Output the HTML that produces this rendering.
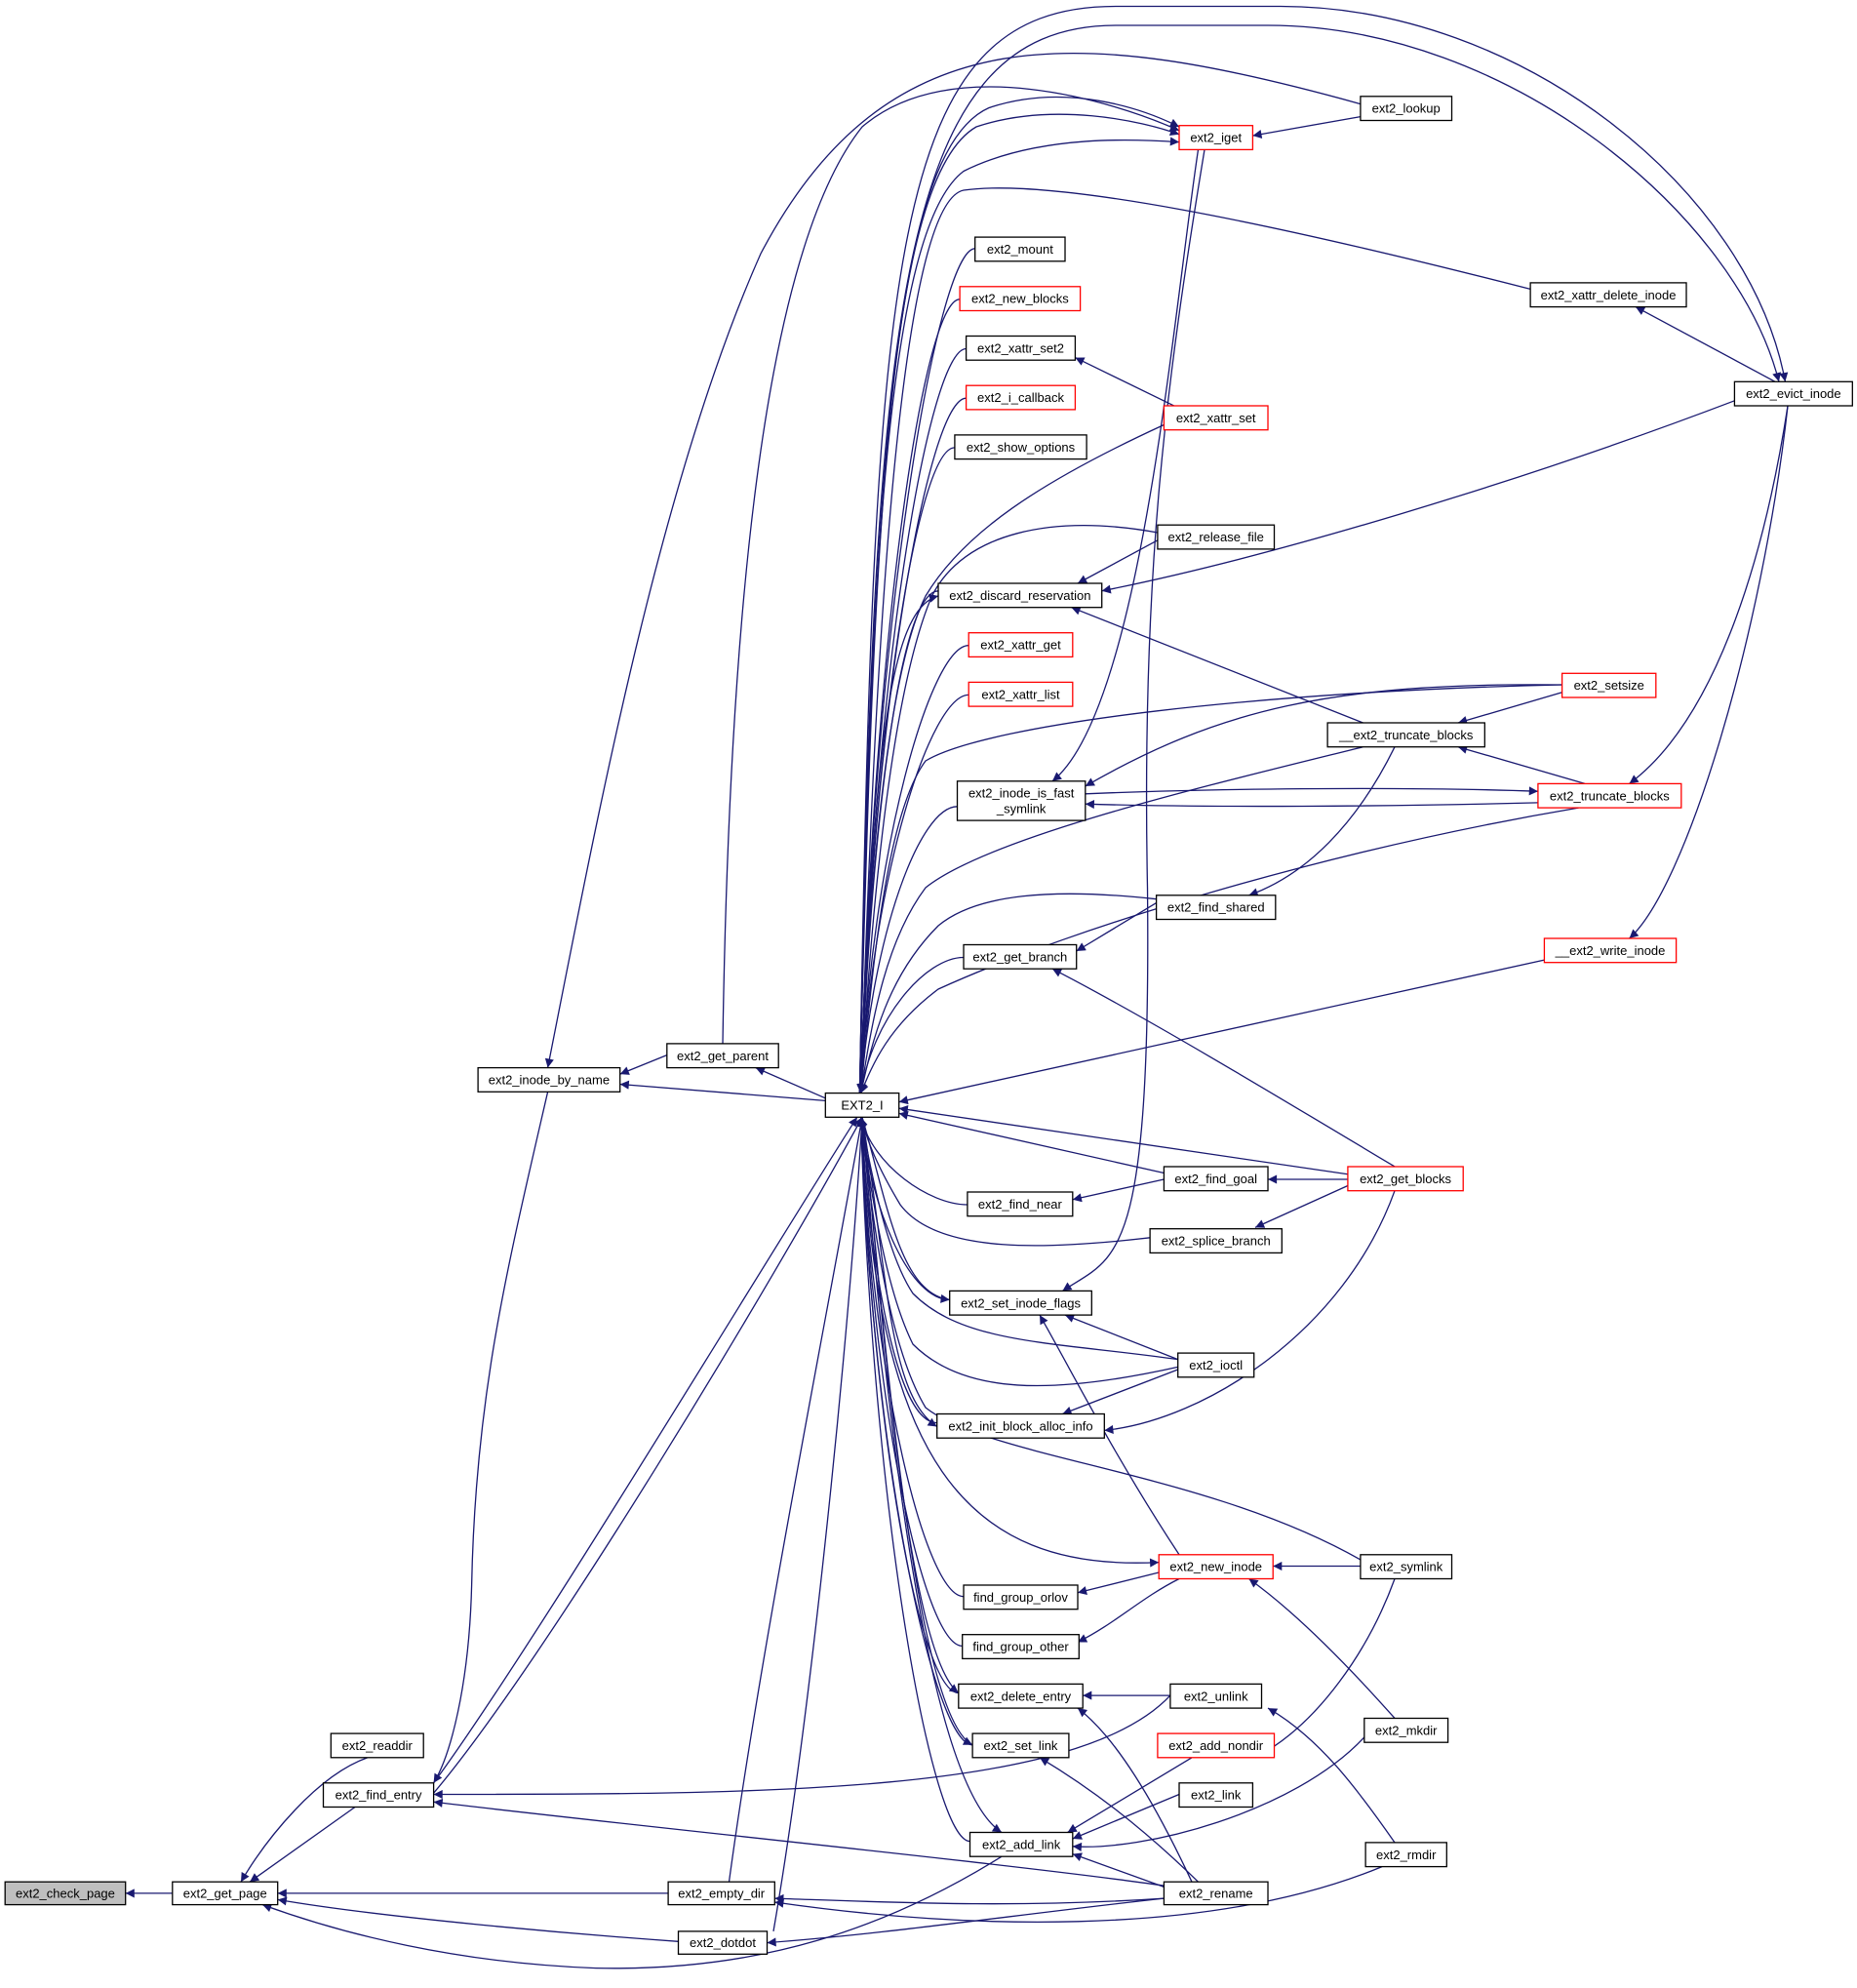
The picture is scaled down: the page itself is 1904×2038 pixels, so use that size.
<!DOCTYPE html>
<html><head><meta charset="utf-8"><title>ext2_check_page call graph</title>
<style>
html,body{margin:0;padding:0;background:#fff;}
svg{display:block;}
text{font-family:"Liberation Sans",Arial,sans-serif;font-size:10px;fill:#000;}
</style></head>
<body>
<svg id="g" xmlns="http://www.w3.org/2000/svg" width="1904" height="2038" viewBox="0 0 1464.6 1567.7" preserveAspectRatio="none">
<defs>
<marker id="ah" viewBox="0 0 10 10" refX="10" refY="5" markerWidth="9" markerHeight="7" markerUnits="userSpaceOnUse" orient="auto">
<path d="M0,0 L10,5 L0,10 z" fill="#191970"/>
</marker>
</defs>
<g id="edges"></g>
<g id="nodes"></g>
</svg>
<script>
const nodeLabels = ["ext2_check_page","ext2_get_page","ext2_readdir","ext2_find_entry","ext2_inode_by_name","ext2_get_parent","ext2_empty_dir","ext2_dotdot","EXT2_I","ext2_mount","ext2_new_blocks","ext2_xattr_set2","ext2_i_callback","ext2_show_options","ext2_discard_reservation","ext2_xattr_get","ext2_xattr_list","ext2_inode_is_fast\n_symlink","ext2_get_branch","ext2_find_near","ext2_set_inode_flags","ext2_init_block_alloc_info","find_group_orlov","find_group_other","ext2_delete_entry","ext2_set_link","ext2_add_link","ext2_iget","ext2_lookup","ext2_xattr_set","ext2_release_file","ext2_find_shared","ext2_find_goal","ext2_splice_branch","ext2_ioctl","ext2_new_inode","ext2_unlink","ext2_add_nondir","ext2_link","ext2_rename","ext2_xattr_delete_inode","ext2_evict_inode","ext2_setsize","__ext2_truncate_blocks","ext2_truncate_blocks","__ext2_write_inode","ext2_get_blocks","ext2_symlink","ext2_mkdir","ext2_rmdir"];
const nodeBoxes = [[4,1484,99,1502,2],[136,1484,219,1502,0],[261,1367,334,1386,0],[255,1406,342,1425,0],[377,842,489,861,0],[526,823,614,842,0],[527,1484,611,1502,0],[535,1523,605,1541,0],[651,862,709,881,0],[769,187,840,206,0],[757,226,852,245,1],[762,265,848,284,0],[762,304,848,323,1],[753,343,857,362,0],[740,460,869,479,0],[764,499,846,518,1],[764,538,846,557,1],[755,616,856,647,0],[760,745,849,764,0],[763,940,846,959,0],[749,1018,861,1037,0],[739,1115,871,1134,0],[760,1250,850,1269,0],[759,1289,851,1308,0],[756,1328,854,1347,0],[767,1367,843,1386,0],[765,1445,846,1464,0],[930,99,988,118,1],[1073,76,1145,95,0],[918,320,1000,339,1],[913,414,1005,433,0],[912,706,1006,725,0],[918,920,1000,939,0],[907,969,1011,988,0],[929,1067,989,1086,0],[914,1226,1004,1245,1],[923,1328,995,1347,0],[913,1367,1005,1386,1],[930,1406,988,1425,0],[918,1484,1000,1502,0],[1207,223,1330,242,0],[1368,301,1461,320,0],[1232,531,1306,550,1],[1047,570,1171,589,0],[1213,618,1326,637,1],[1218,740,1322,759,1],[1063,920,1154,939,1],[1073,1226,1145,1245,0],[1076,1355,1142,1374,0],[1077,1453,1141,1472,0]];
// fan-in edges from nearby column nodes to EXT2_I
const fanSources = [[769,196],[757,236],[762,275],[762,314],[753,353],[740,466],[764,509],[764,548],[755,636],[760,755],[763,950],[749,1025],[739,1122],[760,1259],[759,1298],[756,1335],[767,1376],[765,1452]];
const edgePaths = [
"M136,1493 L99,1493",
"M290,1386 C250,1400 210,1450 190,1484",
"M280,1425 L197,1484",
"M527,1493 L219,1493",
"M535,1531 C450,1525 300,1512 219,1498",
"M790,1464 C700,1520 600,1555 470,1552 C360,1548 270,1525 207,1502",
"M342,1406 C420,1300 600,1000 676,881",
"M342,1414 C430,1310 610,1010 680,881",
"M923,1337 C850,1415 600,1415 342,1415",
"M918,1487 C800,1470 500,1440 342,1421",
"M432,861 C400,1000 375,1100 372,1250 C370,1330 355,1385 342,1406",
"M651,868 L489,855",
"M1073,82 C850,20 700,10 600,200 C520,380 470,650 432,842",
"M651,866 L596,842",
"M526,832 L489,847",
"M570,823 C575,500 600,200 680,100 C750,40 880,80 930,103",
"M1073,92 L988,107",
"M945,118 C925,250 900,560 830,616",
"M950,118 C920,300 900,450 905,700 C908,1000 880,990 838,1018",
"M930,322 L848,282",
"M913,426 L850,460",
"M1368,316 C1200,380 1000,440 869,466",
"M1075,570 L845,479",
"M1400,301 L1290,242",
"M678,862 C690,200 700,5 880,5 L1010,5 C1200,5 1380,150 1408,301",
"M678,862 C690,250 705,20 880,20 L1000,20 C1190,20 1370,170 1403,301",
"M1410,320 C1390,450 1350,570 1285,618",
"M1410,320 C1390,500 1330,700 1285,740",
"M1232,546 L1150,570",
"M1250,618 L1150,589",
"M1232,540 C1050,538 960,560 856,620",
"M856,626 C950,622 1100,620 1213,624",
"M1213,633 C1100,636 950,637 856,634",
"M1100,589 C1070,650 1030,690 985,706",
"M912,712 L849,750",
"M1100,920 C1000,860 900,800 830,764",
"M918,930 L846,946",
"M1063,930 L1000,930",
"M1063,935 L990,968",
"M1100,939 C1060,1050 950,1120 871,1128",
"M929,1072 L840,1037",
"M929,1080 L838,1115",
"M930,1226 C880,1150 850,1090 820,1037",
"M680,881 C690,1150 760,1240 914,1232",
"M914,1240 L850,1256",
"M930,1245 C900,1260 880,1280 850,1295",
"M1073,1235 L1004,1235",
"M1100,1355 C1060,1310 1020,1270 985,1245",
"M923,1337 L854,1337",
"M940,1484 C910,1420 880,1370 850,1347",
"M945,1484 C900,1440 860,1410 820,1386",
"M1100,1453 C1070,1410 1040,1370 1000,1347",
"M1100,1245 C1080,1300 1040,1360 990,1386",
"M940,1386 L842,1445",
"M930,1415 L846,1450",
"M1076,1370 C1020,1430 900,1460 846,1456",
"M918,1488 L846,1462",
"M575,1484 C600,1300 650,1050 680,881",
"M610,1523 C640,1350 670,1050 680,881",
"M918,1497 C800,1505 700,1500 611,1497",
"M1090,1472 C950,1530 750,1520 611,1500",
"M918,1497 C800,1510 700,1525 605,1532",
"M680,881 C690,1000 720,1400 790,1445",
"M680,881 C690,950 710,1300 756,1335",
"M680,881 C690,950 715,1350 767,1376",
"M680,881 C700,1000 700,1100 739,1125",
"M680,881 C700,950 710,1020 749,1025",
"M678,862 C690,600 700,480 740,470",
"M678,862 C690,400 700,120 780,85 C840,65 900,85 930,100",
"M678,862 C688,420 700,140 770,100 C830,80 900,95 930,106",
"M678,862 C686,450 700,180 760,135 C820,105 900,110 930,112",
"M1207,228 C1000,175 830,140 760,150 C710,160 690,500 679,862",
"M918,335 C820,380 760,420 730,470 C700,530 685,700 679,862",
"M913,420 C830,405 760,420 735,470 C705,540 688,700 679,862",
"M1232,540 C1000,545 780,570 730,600 C700,640 688,760 679,862",
"M1075,589 C950,620 780,660 730,700 C700,740 688,800 679,862",
"M1245,637 C1050,670 850,730 740,780 C700,810 688,840 679,862",
"M912,709 C830,700 770,705 740,730 C700,770 688,820 679,862",
"M1218,757 L709,869",
"M1063,926 L709,874",
"M918,925 L709,878",
"M907,976 C830,985 740,990 710,950 C692,920 684,900 679,881",
"M929,1072 C830,1058 760,1060 720,1020 C700,990 688,930 679,881",
"M929,1078 C830,1100 760,1100 720,1060 C700,1020 688,950 679,881",
"M1073,1230 C950,1160 780,1150 730,1110 C700,1060 688,960 679,881"
];
const NS="http://www.w3.org/2000/svg";
const eg=document.getElementById('edges');
function addPath(d){
  const p=document.createElementNS(NS,'path');
  p.setAttribute('d',d);
  p.setAttribute('fill','none');
  p.setAttribute('stroke','#191970');
  p.setAttribute('stroke-width','1');
  p.setAttribute('marker-end','url(#ah)');
  
  
  eg.appendChild(p);
}
fanSources.forEach(function(s){
  const x=s[0],y=s[1];
  const ty = y<870 ? 862 : 881;
  const c1x = x-30;
  const d="M"+x+","+y+" C"+c1x+","+y+" "+(688)+","+(y+(ty-y)*0.45)+" "+(679)+","+ty;
  addPath(d);
});
edgePaths.forEach(function(d){addPath(d);});
const ng=document.getElementById('nodes');
nodeLabels.forEach(function(lab,i){
  const b=nodeBoxes[i];
  const g=document.createElementNS(NS,'g');
  
  
  const r=document.createElementNS(NS,'rect');
  r.setAttribute('x',b[0]);r.setAttribute('y',b[1]);
  r.setAttribute('width',b[2]-b[0]);r.setAttribute('height',b[3]-b[1]);
  r.setAttribute('fill',b[4]===2?'#bfbfbf':'#fff');
  r.setAttribute('stroke',b[4]===1?'#ff0000':'#000');
  r.setAttribute('stroke-width','1');
  g.appendChild(r);
  const lines=lab.split('\n');
  const cx=(b[0]+b[2])/2, cy=(b[1]+b[3])/2;
  lines.forEach(function(l,j){
    const t=document.createElementNS(NS,'text');
    t.setAttribute('x',cx);
    t.setAttribute('y',cy+3.5+(j-(lines.length-1)/2)*12);
    t.setAttribute('text-anchor','middle');
    t.textContent=l;
    g.appendChild(t);
  });
  ng.appendChild(g);
});
</script>
</body></html>
